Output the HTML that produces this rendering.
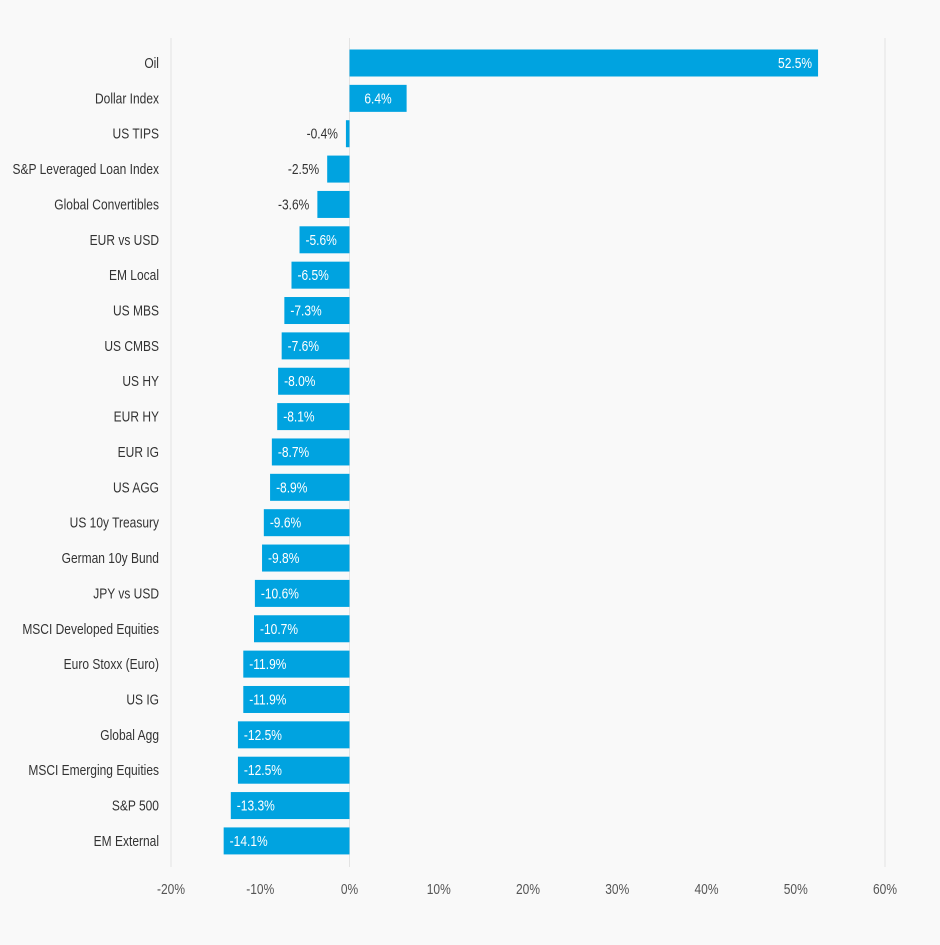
<!DOCTYPE html>
<html><head><style>
html,body{margin:0;padding:0;background:#f9f9f9;}
svg{display:block;}
text{font-family:"Liberation Sans",sans-serif;font-size:15px;}
</style></head><body>
<svg width="940" height="945" viewBox="0 0 940 945">
<rect width="940" height="945" fill="#f9f9f9"/>
<g id="grid" stroke="#e3e3e3" stroke-width="1"></g>
<g id="bars"></g>
</svg>
<script>
const data=[["Oil",52.5],["Dollar Index",6.4],["US TIPS",-0.4],["S&P Leveraged Loan Index",-2.5],["Global Convertibles",-3.6],["EUR vs USD",-5.6],["EM Local",-6.5],["US MBS",-7.3],["US CMBS",-7.6],["US HY",-8.0],["EUR HY",-8.1],["EUR IG",-8.7],["US AGG",-8.9],["US 10y Treasury",-9.6],["German 10y Bund",-9.8],["JPY vs USD",-10.6],["MSCI Developed Equities",-10.7],["Euro Stoxx (Euro)",-11.9],["US IG",-11.9],["Global Agg",-12.5],["MSCI Emerging Equities",-12.5],["S&P 500",-13.3],["EM External",-14.1]];
const NS="http://www.w3.org/2000/svg";
const z=349.5,k=8.925;
function el(t,a,p,txt){const e=document.createElementNS(NS,t);for(const x in a)e.setAttribute(x,a[x]);if(txt!==undefined)e.textContent=txt;p.appendChild(e);return e;}
const svg=document.querySelector("svg"),g=document.getElementById("grid"),b=document.getElementById("bars");
for(let v=-20;v<=60;v+=10){const x=z+v*k;if(v==-20||v==0||v==60)el("line",{x1:x,x2:x,y1:38,y2:867},g);
el("text",{x:x,y:894,"text-anchor":"middle",fill:"#555",transform:`translate(${x} 0) scale(0.8 1) translate(${-x} 0)`},svg,v+"%");}
data.forEach((d,i)=>{const cy=63+i*35.36,v=d[1];const x1=z,x2=z+v*k;const l=Math.min(x1,x2),w=Math.abs(x2-x1);
el("rect",{x:l,y:cy-13.5,width:Math.max(w,2.5),height:27,fill:"#00a3e0"},b);
const lx=159;el("text",{x:lx,y:cy+5,"text-anchor":"end",fill:"#333",transform:`translate(${lx} 0) scale(0.8 1) translate(${-lx} 0)`},b,d[0]);
const s=v.toFixed(1)+"%";let tx,anc,col="#fff";
if(v>40){tx=x2-6;anc="end";}else if(v>0){tx=(x1+x2)/2;anc="middle";}
else if(w<40){tx=l-8;anc="end";col="#333";}else{tx=l+6;anc="start";}
el("text",{x:tx,y:cy+5,"text-anchor":anc,fill:col,transform:`translate(${tx} 0) scale(0.8 1) translate(${-tx} 0)`},b,s);});
</script>
</body></html>
